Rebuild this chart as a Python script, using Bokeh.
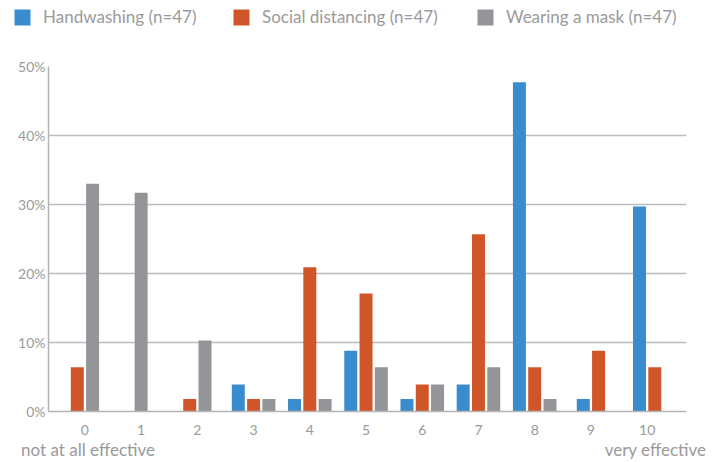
from bokeh.plotting import figure
from bokeh.layouts import column
from bokeh.models import Range1d, FixedTicker, Legend, LegendItem, ColumnDataSource, LinearAxis
from bokeh.embed import file_html
from bokeh.resources import INLINE

# Share of respondents (%) giving each effectiveness score, 0-10
scores = list(range(11))
handwashing = [0, 0, 0, 3.9, 1.8, 8.8, 1.8, 3.9, 47.7, 1.8, 29.7]
social_distancing = [6.4, 0, 1.8, 1.8, 20.9, 17.1, 3.9, 25.7, 6.4, 8.8, 6.4]
wearing_mask = [33.0, 31.7, 10.3, 1.8, 1.8, 6.4, 3.9, 6.4, 1.8, 0, 0]

series_names = ["Handwashing (n=47)", "Social distancing (n=47)", "Wearing a mask (n=47)"]
series_values = [handwashing, social_distancing, wearing_mask]
colors = ["#3a8ccd", "#d0562a", "#949599"]
tick_labels = [str(s) for s in scores]
y_ticks = [0, 10, 20, 30, 40, 50]
end_labels = ["not at all effective", "very effective"]
end_positions = [0.055, 10.15]

FONT = "Lato"
TEXT_COLOR = "#9a9a9a"
BAR_W = 0.231
STEP = 0.272
LEGEND_H = 40

# ---- legend strip (its own frame spans the whole strip) ----
leg = figure(width=723, height=LEGEND_H, output_backend="svg", toolbar_location=None,
             x_range=Range1d(0, 1), y_range=Range1d(0, 1),
             x_axis_type=None, y_axis_type=None, min_border=0, frame_align=False)
leg.outline_line_color = None
leg.xgrid.visible = False
leg.ygrid.visible = False
legend_x = [12, 231, 475]
for k, name in enumerate(series_names):
    # zero-height bar that only supplies the swatch style
    r = leg.vbar(x=[0.5], top=[0], bottom=0, width=0.1, fill_color=colors[k], line_color=None)
    lg = Legend(items=[LegendItem(label=name, renderers=[r])],
                location=(legend_x[k], LEGEND_H - 27), orientation="horizontal",
                padding=0, margin=0, border_line_alpha=0, background_fill_alpha=0,
                glyph_width=20, glyph_height=20, label_height=20, label_standoff=11,
                label_text_font=FONT, label_text_font_size="17px",
                label_text_color=TEXT_COLOR, label_text_baseline="middle")
    leg.add_layout(lg)

# ---- bar chart ----
p = figure(width=723, height=462 - LEGEND_H, output_backend="svg", toolbar_location=None,
           x_range=Range1d(-0.648, 10.70), y_range=Range1d(0, 50),
           min_border_left=48, min_border_right=37, min_border_top=66 - LEGEND_H,
           min_border_bottom=50, frame_align=False)
p.outline_line_color = None

# bars of each score are centred among the series that have a non-zero share
xs = [[] for _ in series_values]
tops = [[] for _ in series_values]
for i, s in enumerate(scores):
    present = [k for k, vals in enumerate(series_values) if vals[i] > 0]
    n = len(present)
    for j, k in enumerate(present):
        xs[k].append(s + (j - (n - 1) / 2) * STEP)
        tops[k].append(series_values[k][i])

for k in range(len(series_values)):
    src = ColumnDataSource(dict(x=xs[k], top=tops[k]))
    p.vbar(x="x", top="top", bottom=0, width=BAR_W, source=src,
           fill_color=colors[k], line_color=None)

p.xgrid.visible = False
p.ygrid.grid_line_color = "#bcbcbc"
p.ygrid.grid_line_width = 1.5
p.yaxis.ticker = FixedTicker(ticks=y_ticks)
p.yaxis.major_label_overrides = {t: f"{t}%" for t in y_ticks}
p.xaxis.ticker = FixedTicker(ticks=scores)
p.xaxis.major_label_overrides = {s: lab for s, lab in zip(scores, tick_labels)}
for ax in (p.xaxis, p.yaxis):
    ax.axis_line_color = "#b4b4b4"
    ax.axis_line_width = 1.5
    ax.major_tick_line_color = None
    ax.minor_tick_line_color = None
    ax.major_label_text_font = FONT
    ax.major_label_text_color = TEXT_COLOR
    ax.major_label_text_font_size = "14px"
p.yaxis.major_label_standoff = -3
p.xaxis.major_label_standoff = 7

# scale end descriptions on a second, line-less axis below the scores
ends = LinearAxis(ticker=FixedTicker(ticks=end_positions),
                  major_label_overrides={v: t for v, t in zip(end_positions, end_labels)},
                  axis_line_color=None, major_tick_line_color=None,
                  minor_tick_line_color=None, major_label_standoff=-5,
                  major_label_text_font=FONT, major_label_text_font_size="17px",
                  major_label_text_color=TEXT_COLOR)
p.add_layout(ends, "below")

open("out.html", "w").write(file_html(column(leg, p, spacing=0), INLINE))
